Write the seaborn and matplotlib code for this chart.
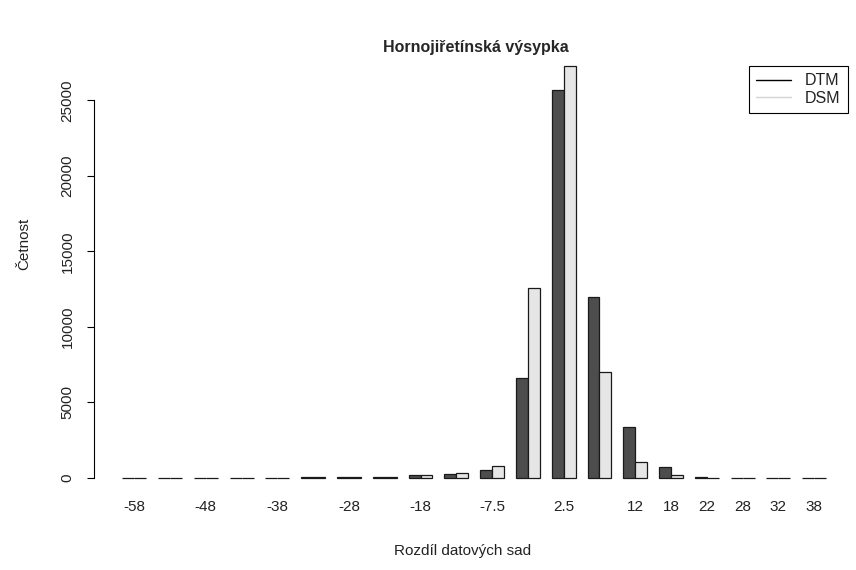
import numpy as np
import pandas as pd
import matplotlib
matplotlib.use("Agg")
import matplotlib.pyplot as plt
import seaborn as sns
from matplotlib.lines import Line2D

# Histogram bins (midpoints) of the difference between data sets
bin_labels = ["-58", "-53", "-48", "-43", "-38", "-33", "-28", "-23", "-18", "-13",
              "-7.5", "-2.5", "2.5", "7.5", "12", "18", "22", "28", "32", "38"]
# R hides labels that would overlap, these are the ones drawn
shown_labels = ["-58", "-48", "-38", "-28", "-18", "-7.5", "2.5",
                "12", "18", "22", "28", "32", "38"]

dtm_counts = [20, 20, 20, 20, 20, 70, 80, 80, 170, 280,
              550, 6600, 25700, 12000, 3400, 700, 80, 20, 20, 20]
dsm_counts = [20, 20, 20, 20, 20, 50, 60, 60, 170, 320,
              770, 12600, 27300, 7000, 1050, 200, 30, 20, 20, 20]
series_names = ["DTM", "DSM"]

df = pd.DataFrame({
    "bin": bin_labels * 2,
    "model": ["DTM"] * len(bin_labels) + ["DSM"] * len(bin_labels),
    "count": dtm_counts + dsm_counts,
})

sns.set_style("white")
plt.rcParams["font.family"] = ["Liberation Sans", "DejaVu Sans"]

fig = plt.figure(figsize=(8.56, 5.70), dpi=100)
ax = fig.add_axes([0.110, 0.1325, 0.888, 0.7815])

sns.barplot(data=df, x="bin", y="count", hue="model", order=bin_labels,
            hue_order=series_names, palette=["#4D4D4D", "#E6E6E6"],
            width=2 / 3, gap=0, edgecolor="#1a1a1a", linewidth=0.9,
            errorbar=None, legend=False, ax=ax)

# R-like plot window: 4% padding around the data range
ax.set_xlim(-1.12, 20.12)
ax.set_ylim(-1092, 28392)

for s in ["top", "right", "bottom"]:
    ax.spines[s].set_visible(False)
ax.spines["left"].set_bounds(0, 25000)
ax.spines["left"].set_color("black")
ax.spines["left"].set_linewidth(0.8)

ax.set_yticks([0, 5000, 10000, 15000, 20000, 25000])
ax.set_yticklabels(["0", "5000", "10000", "15000", "20000", "25000"],
                   rotation=90, va="center", fontsize=11, color="#222222")
ax.tick_params(axis="y", left=True, length=5, width=0.8, color="black", pad=9)

ax.set_xticks(range(len(bin_labels)))
ax.set_xticklabels([b if b in shown_labels else "" for b in bin_labels],
                   fontsize=11, color="#222222")
ax.tick_params(axis="x", length=0, pad=4)

ax.set_xlabel("")
ax.set_ylabel("")
fig.text(0.540, 0.033, "Rozdíl datových sad", ha="center", va="center",
         fontsize=11, color="#222222")
fig.text(0.028, 0.572, "Četnost", ha="center", va="center", rotation=90,
         fontsize=11, color="#222222")
fig.text(0.556, 0.916, "Hornojiřetínská výsypka", ha="center", va="center",
         fontsize=11.5, fontweight="bold")

handles = [Line2D([], [], color="black", lw=1),
           Line2D([], [], color="#D3D3D3", lw=1)]
fig.legend(handles, series_names, loc="upper right",
           bbox_to_anchor=(0.9907, 0.884), fancybox=False, framealpha=1,
           edgecolor="black", fontsize=11.5, handlelength=2.2, borderaxespad=0,
           borderpad=0.45, labelspacing=0.15, handletextpad=0.9,
           labelcolor="#222222")
fig.legends[0].get_frame().set_linewidth(0.8)

fig.savefig("out.png", dpi=100)
